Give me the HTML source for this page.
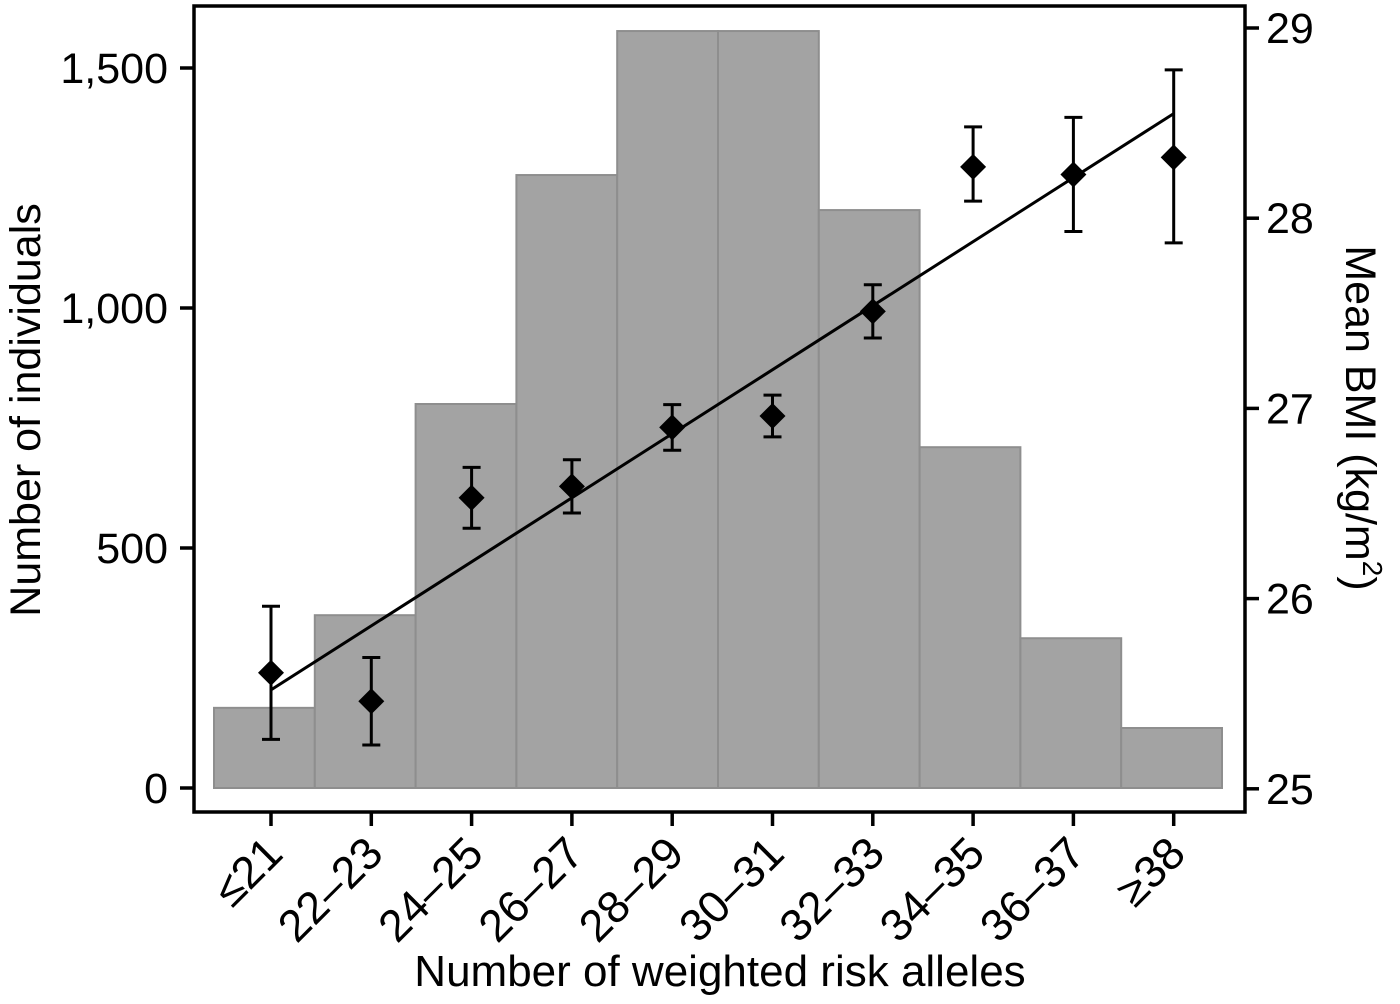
<!DOCTYPE html>
<html><head><meta charset="utf-8"><style>
html,body{margin:0;padding:0;background:#fff;}
svg{display:block;font-family:"Liberation Sans",Arial,sans-serif;}
</style></head><body>
<svg id="chart" width="1400" height="1004" viewBox="0 0 1400 1004" xmlns="http://www.w3.org/2000/svg">
<rect x="194" y="6" width="1051" height="806" fill="none" stroke="#000" stroke-width="3.5"/>
<g id="bars"></g><g id="fit"></g><g id="points"></g><g id="axes"></g>
<text transform="translate(40,410) rotate(-90)" text-anchor="middle" font-size="43">Number of individuals</text>
<text transform="translate(1346,418) rotate(90)" text-anchor="middle" font-size="43">Mean BMI (kg/m<tspan font-size="28" dy="-17">2</tspan><tspan dy="17">)</tspan></text>
<text x="720" y="986" text-anchor="middle" font-size="44">Number of weighted risk alleles</text>
</svg>
<script>
const categories=["≤21","22–23","24–25","26–27","28–29","30–31","32–33","34–35","36–37","≥38"];
const counts=[167,360,800,1277,1577,1577,1204,710,312,125];
const bmi=[25.61,25.46,26.53,26.59,26.90,26.96,27.51,28.27,28.23,28.32];
const bmiLow=[25.26,25.23,26.37,26.45,26.78,26.85,27.37,28.09,27.93,27.87];
const bmiHigh=[25.96,25.69,26.69,26.73,27.02,27.07,27.65,28.48,28.53,28.78];
const fitLine=[25.52,28.55];
const countTicks=[0,500,1000,1500];
const countTickLabels=["0","500","1,000","1,500"];
const bmiTicks=[25,26,27,28,29];

const NS="http://www.w3.org/2000/svg";
const yL=v=>788-v*0.48;
const yR=v=>28+(29-v)*190.2;
const xBar=i=>214+i*100.8;
const xTick=i=>271+i*100.3;
function mk(t,a,p){const e=document.createElementNS(NS,t);for(const k in a)e.setAttribute(k,a[k]);p.appendChild(e);return e;}
const gB=document.getElementById('bars'),gF=document.getElementById('fit'),gP=document.getElementById('points'),gA=document.getElementById('axes');
counts.forEach((c,i)=>{
 const r=mk('rect',{x:xBar(i),y:yL(c),width:100.8,height:yL(0)-yL(c),fill:'#a3a3a3',stroke:'#8e8e8e','stroke-width':2},gB);
 
 
});
const fl=mk('line',{x1:xTick(0),y1:yR(fitLine[0]),x2:xTick(9),y2:yR(fitLine[1]),stroke:'#000','stroke-width':3},gF);


bmi.forEach((v,i)=>{
 const x=xTick(i);
 const g=mk('g',{},gP);
 
 
 mk('line',{x1:x,y1:yR(bmiLow[i]),x2:x,y2:yR(bmiHigh[i]),stroke:'#000','stroke-width':3},g);
 mk('line',{x1:x-9,y1:yR(bmiLow[i]),x2:x+9,y2:yR(bmiLow[i]),stroke:'#000','stroke-width':3},g);
 mk('line',{x1:x-9,y1:yR(bmiHigh[i]),x2:x+9,y2:yR(bmiHigh[i]),stroke:'#000','stroke-width':3},g);
 const y=yR(v);
 mk('polygon',{points:`${x},${y-13} ${x+13},${y} ${x},${y+13} ${x-13},${y}`,fill:'#000'},g);
});
countTicks.forEach((t,i)=>{
 const y=yL(t);
 mk('line',{x1:180,y1:y,x2:194,y2:y,stroke:'#000','stroke-width':3.5},gA);
 const tx=mk('text',{x:168,y:y+15,'text-anchor':'end','font-size':43},gA);
 tx.textContent=countTickLabels[i];
 
 
});
bmiTicks.forEach(t=>{
 const y=yR(t);
 mk('line',{x1:1245,y1:y,x2:1259,y2:y,stroke:'#000','stroke-width':3.5},gA);
 const tx=mk('text',{x:1266,y:y+15,'font-size':43},gA);
 tx.textContent=String(t);
 
 
});
categories.forEach((c,i)=>{
 const x=xTick(i);
 mk('line',{x1:x,y1:812,x2:x,y2:826,stroke:'#000','stroke-width':3.5},gA);
 const tx=mk('text',{transform:`translate(${x+14},${856}) rotate(-45)`,'text-anchor':'end','font-size':45},gA);
 tx.textContent=c;
 
 
});
</script>
</body></html>
